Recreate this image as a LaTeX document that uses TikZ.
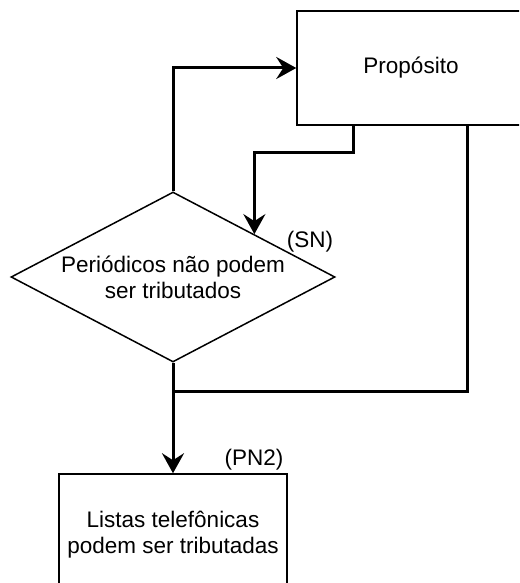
\documentclass[tikz,border=0pt]{standalone}
\usepackage{fontspec}
\setmainfont{Liberation Sans}
\usetikzlibrary{arrows.meta,shapes.geometric}

\tikzset{
  box/.style={draw=black, line width=1.5pt, fill=white, minimum width=228pt,
    inner sep=0pt, align=center, font=\fontsize{22.5}{26}\selectfont},
  decision/.style={draw=black, line width=1.5pt, diamond, aspect=1.906,
    minimum width=324pt, minimum height=170pt, inner sep=0pt, align=center,
    font=\fontsize{22.5}{26}\selectfont},
  tag/.style={inner sep=0pt, font=\fontsize{22.5}{26}\selectfont},
  flow/.style={line width=3pt, -{Stealth[length=20pt, width=22pt, inset=7pt]}},
  plain/.style={line width=3pt}
}

\begin{document}
\begin{tikzpicture}[x=1pt, y=-1pt]
  \useasboundingbox (0,0) rectangle (519,583);
  \clip (0,0) rectangle (519,583);

  % boxes and decision
  \node[box, minimum height=114pt] (prop) at (411,68) {Propósito};
  \node[decision] (d) at (173,277) {Periódicos não podem\\ser tributados};
  \node[box, minimum height=122pt] (list) at (173,535) {Listas telefônicas\\podem ser tributadas};

  % labels
  \node[tag] (sn) at (310,242) {(SN)};
  \node[tag] (pn) at (254,460) {(PN2)};

  % junction below the decision
  \coordinate (j) at (173,391);

  % connectors
  \draw[flow] (d.north) |- (prop.west);
  \draw[flow] ([xshift=57pt]prop.south west) -- ++(0,27) -| (d.north east);
  \draw[plain] ([xshift=171pt]prop.south west) |- (j);
  \draw[flow] (d.south) -- (list.north);
\end{tikzpicture}
\end{document}
